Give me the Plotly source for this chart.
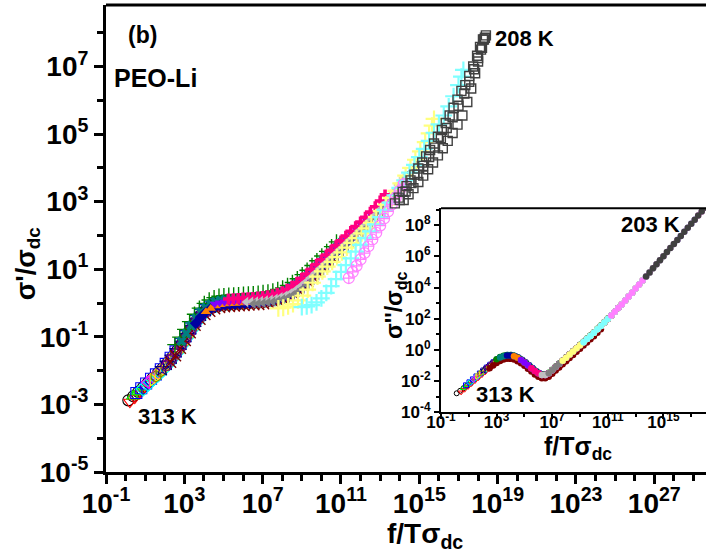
import plotly.graph_objects as go

# ---------------- data (log10 units) ----------------
TEMPS = [313, 308, 303, 298, 293, 288, 283, 278, 273, 268, 263, 258, 253, 248,
         243, 238, 233, 228, 223, 218, 213, 210, 208]
COLORS = ['#000000', '#FF0000', '#00FF00', '#0000FF', '#00FFFF', '#FF00FF', '#FFFF00',
          '#808000', '#000080', '#800080', '#800000', '#008000', '#008080', '#0000A0',
          '#FF8000', '#8000FF', '#FF0080', '#C0C0C0', '#808080', '#FFFF80', '#80FFFF',
          '#FF80FF', '#404040']
SYMBOLS = ['circle-open', 'triangle-down-open', 'triangle-up-open', 'square-open',
           'diamond-open', 'triangle-left-open', 'triangle-right-open', 'hexagon-open',
           'star-open', 'hexagon2-open', 'x-thin-open', 'cross-thin-open', 'x',
           'diamond', 'triangle-up', 'triangle-down', 'cross', 'triangle-left',
           'triangle-left', 'cross-thin-open', 'cross-thin-open', 'circle-cross-open',
           'square-open']

# master curve of sigma'/sigma_dc (main panel), read along the band
MAIN_MASTER_LX = [0.0, 0.25, 0.5, 0.75, 1.0, 1.25, 1.5, 1.75, 2.0, 2.25, 2.5, 2.75,
                  3.0, 3.25, 3.5, 3.75, 4.0, 4.25, 4.5, 4.75, 5.0, 5.25, 5.5, 5.75,
                  6.0, 6.25, 6.5, 6.75, 7.0, 7.25, 7.5, 7.75, 8.0, 8.25, 8.5, 8.75,
                  9.0, 9.25, 9.5, 9.75, 10.0, 10.25, 10.5, 10.75, 11.0, 11.25, 11.5,
                  11.75, 12.0, 12.25, 12.5, 12.75, 13.0, 13.25, 13.5, 13.75, 14.0,
                  14.25, 14.5, 14.75]
MAIN_MASTER_LY = [-2.88, -2.76, -2.63, -2.49, -2.35, -2.21, -2.08, -1.93, -1.77, -1.59,
                  -1.40, -1.18, -0.95, -0.72, -0.50, -0.32, -0.18, -0.08, -0.01, 0.03,
                  0.05, 0.06, 0.07, 0.08, 0.09, 0.10, 0.11, 0.12, 0.14, 0.16, 0.19,
                  0.23, 0.28, 0.35, 0.44, 0.55, 0.67, 0.80, 0.94, 1.08, 1.22, 1.36,
                  1.50, 1.64, 1.78, 1.92, 2.06, 2.20, 2.34, 2.48, 2.63, 2.79, 2.96,
                  3.14, 3.34, 3.55, 3.76, 3.98, 4.20, 4.43]
# per-temperature placement on the master curve (first 19 series)
MAIN_DX = [0.14, 0.22, 0.12, 0.05, 0.15, 0.08, 0.15, 0.05, 0.12, 0.10, 0.05, 0.02,
           0.10, 0.08, 0.10, 0.05, 0.0, 0.15, 0.28]
MAIN_DY = [0.0, -0.05, 0.0, -0.03, -0.05, 0.0, -0.06, -0.09, -0.02, -0.08, -0.16, 0.17,
           0.05, -0.10, -0.08, -0.02, 0.06, -0.06, -0.12]
MAIN_LO = [0.0, 0.0, 0.25, 0.5, 0.75, 1.0, 1.25, 1.5, 1.75, 2.0, 2.25, 2.5, 2.75,
           3.5, 4.0, 4.5, 5.25, 6.0, 6.25]
MAIN_HI = [8.0, 8.25, 8.5, 8.75, 9.0, 9.25, 9.5, 9.75, 10.0, 10.25, 10.5, 10.75, 11.0,
           11.5, 12.0, 12.5, 13.25, 14.0, 14.5]

# the last (low temperature) curves, read directly
LTY_LX = [7.8, 8.05, 8.3, 8.55, 8.8, 9.05, 9.3, 9.55, 9.8, 10.05, 10.3, 10.55, 10.8,
          11.05, 11.3, 11.55, 11.8, 12.05, 12.3, 12.55, 12.8, 13.05, 13.3, 13.55, 13.8,
          14.05, 14.3, 14.55, 14.8, 15.05, 15.3, 15.5, 15.65, 15.75]
LTY_LY = [-0.16, -0.14, -0.10, -0.03, 0.08, 0.22, 0.40, 0.60, 0.78, 0.94, 1.08, 1.22,
          1.36, 1.50, 1.64, 1.78, 1.92, 2.06, 2.21, 2.37, 2.54, 2.72, 2.91, 3.11, 3.32,
          3.54, 3.77, 4.00, 4.24, 4.49, 4.76, 5.02, 5.25, 5.45]
LTC_LX = [9.0, 9.25, 9.5, 9.75, 10.0, 10.25, 10.5, 10.75, 11.0, 11.25, 11.5, 11.75,
          12.0, 12.25, 12.5, 12.75, 13.0, 13.25, 13.5, 13.75, 14.0, 14.25, 14.5, 14.75,
          15.0, 15.25, 15.5, 15.75, 16.0, 16.25, 16.5, 16.75, 17.0, 17.15, 17.25]
LTC_LY = [-0.12, -0.10, -0.06, 0.02, 0.14, 0.30, 0.50, 0.71, 0.92, 1.12, 1.32, 1.52,
          1.72, 1.92, 2.12, 2.33, 2.54, 2.75, 2.97, 3.19, 3.41, 3.63, 3.86, 4.09, 4.32,
          4.56, 4.80, 5.04, 5.29, 5.55, 5.82, 6.12, 6.45, 6.70, 6.90]
LTM_LX = [11.4, 11.6, 11.8, 12.0, 12.2, 12.4, 12.6, 12.8, 13.0, 13.2, 13.4, 13.6, 13.8,
          14.0, 14.2]
LTM_LY = [0.74, 0.92, 1.10, 1.29, 1.48, 1.68, 1.88, 2.08, 2.29, 2.50, 2.71, 2.92, 3.12,
          3.32, 3.52]
DKG_LX = [13.75, 13.95, 14.15, 14.35, 14.55, 14.75, 14.95, 15.15, 15.35, 15.55, 15.75,
          15.95, 16.15, 16.35, 16.55, 16.75, 16.95, 17.15, 17.35, 17.55, 17.75, 17.95,
          18.1, 18.25, 18.4,
          14.0, 14.3, 14.6, 14.9, 15.2, 15.5, 15.8, 16.1, 16.4, 16.7, 17.0, 17.3, 17.55,
          17.8, 18.0, 18.2, 18.35,
          14.2, 14.45, 14.7, 14.95, 15.2, 15.45, 15.7, 15.95, 16.2, 16.45, 16.7, 16.95,
          17.2, 17.45, 17.65, 17.85, 18.0, 18.15, 18.3]
DKG_LY = [2.95, 3.12, 3.29, 3.46, 3.63, 3.80, 3.98, 4.16, 4.34, 4.53, 4.72, 4.92, 5.12,
          5.33, 5.55, 5.78, 6.02, 6.28, 6.45, 6.72, 7.00, 7.32, 7.58, 7.80, 7.92,
          3.05, 3.30, 3.55, 3.80, 4.06, 4.32, 4.60, 4.88, 5.18, 5.50, 5.84, 6.20, 6.55,
          6.92, 7.25, 7.55, 7.85,
          3.05, 3.22, 3.40, 3.58, 3.77, 3.96, 4.16, 4.37, 4.58, 4.80, 5.03, 5.28,
          5.55, 5.95, 6.35, 6.80, 7.15, 7.50, 7.80]
LATE_LX = [LTY_LX, LTC_LX, LTM_LX, DKG_LX]
LATE_LY = [LTY_LY, LTC_LY, LTM_LY, DKG_LY]

# inset: sigma''/sigma_dc master curve
INSET_TEMPS = [313, 308, 303, 298, 293, 288, 283, 278, 273, 268, 263, 258, 253, 248,
               243, 238, 233, 228, 223, 218, 213, 208, 203]
INSET_MASTER_LX = [0.0, 0.25, 0.5, 0.75, 1.0, 1.25, 1.5, 1.75, 2.0, 2.25, 2.5, 2.75,
                   3.0, 3.25, 3.5, 3.75, 4.0, 4.25, 4.5, 4.75, 5.0, 5.25, 5.5, 5.75,
                   6.0, 6.25, 6.5, 6.75, 7.0, 7.25, 7.5, 7.75, 8.0, 8.25, 8.5, 8.75,
                   9.0, 9.25, 9.5, 9.75, 10.0, 10.25, 10.5, 10.75, 11.0, 11.25, 11.5,
                   11.75, 12.0, 12.25, 12.5, 12.75, 13.0, 13.25, 13.5, 13.75, 14.0,
                   14.25, 14.5, 14.75, 15.0, 15.25, 15.5, 15.75, 16.0, 16.25, 16.5,
                   16.75, 17.0, 17.25, 17.5, 17.75, 18.0]
INSET_MASTER_LY = [-2.78, -2.62, -2.45, -2.27, -2.08, -1.89, -1.70, -1.51, -1.32, -1.13,
                   -0.95, -0.78, -0.62, -0.49, -0.40, -0.35, -0.35, -0.40, -0.50, -0.64,
                   -0.80, -0.98, -1.17, -1.35, -1.50, -1.60, -1.60, -1.50, -1.30, -1.10,
                   -0.90, -0.70, -0.50, -0.30, -0.10, 0.10, 0.30, 0.50, 0.70, 0.90, 1.10,
                   1.32, 1.54, 1.76, 1.98, 2.21, 2.44, 2.68, 2.92, 3.17, 3.42, 3.67, 3.93,
                   4.19, 4.45, 4.71, 4.97, 5.23, 5.49, 5.75, 6.01, 6.27, 6.53, 6.79, 7.05,
                   7.31, 7.57, 7.83, 8.09, 8.35, 8.61, 8.87, 9.13]
INSET_DX = [0.13, 0.2, 0.1, 0.05, 0.1, 0.05, 0.1, 0.05, 0.05, 0.05, 0.0, 0.0, 0.0, 0.0,
            0.0, 0.0, 0.0, 0.0, 0.0, 0.0, 0.0, 0.0, 0.0]
INSET_DY = [0.0, -0.1, 0.0, 0.0, 0.0, 0.0, 0.0, 0.0, 0.0, 0.0, -0.22, 0.03, 0.0, 0.0,
            0.0, 0.0, 0.0, 0.0, 0.0, 0.0, 0.0, 0.0, 0.0]
INSET_LO = [0.0, 0.25, 0.5, 0.75, 1.0, 1.25, 1.5, 1.75, 2.0, 2.25, 2.5, 3.0, 3.25, 3.75,
            4.25, 4.75, 5.5, 6.25, 6.75, 7.75, 9.25, 11.25, 13.75]
INSET_HI = [8.0, 8.0, 8.5, 8.75, 9.0, 9.25, 9.5, 9.75, 10.0, 10.25, 10.5, 11.0, 11.25,
            11.75, 12.25, 12.75, 13.5, 14.25, 14.75, 15.75, 17.25, 18.0, 18.0]

MAIN_X_LABELS = [-1, 3, 7, 11, 15, 19, 23, 27]
MAIN_Y_LABELS = [-5, -3, -1, 1, 3, 5, 7]
INSET_X_LABELS = [-1, 3, 7, 11, 15]
INSET_Y_LABELS = [-4, -2, 0, 2, 4, 6, 8]

FONT = 'Liberation Sans, Arial, sans-serif'

# ---------------- figure ----------------
fig = go.Figure()


def add_series(name, lx, ly, color, symbol, size, xa='x', ya='y', lw=1.0):
    fig.add_trace(go.Scatter(
        x=[10 ** v for v in lx], y=[10 ** v for v in ly], mode='markers', name=name,
        xaxis=xa, yaxis=ya, showlegend=False,
        marker=dict(symbol=symbol, size=size, color=color,
                    line=dict(color=color, width=lw))))


for i in range(len(MAIN_DX)):
    sel = [k for k, m in enumerate(MAIN_MASTER_LX) if MAIN_LO[i] <= m <= MAIN_HI[i]]
    lx = [MAIN_MASTER_LX[k] + MAIN_DX[i] for k in sel]
    ly = [MAIN_MASTER_LY[k] + MAIN_DY[i] for k in sel]
    filled = not SYMBOLS[i].endswith('open')
    thin = 'thin' in SYMBOLS[i]
    add_series(f'{TEMPS[i]} K', lx, ly, COLORS[i], SYMBOLS[i], 9 if filled else 11,
               lw=1.4 if thin else (0 if filled else 1.1))

LATE_SIZE = [12, 12, 11, 9]
LATE_LW = [2.2, 2.2, 1.2, 1.4]
for j in range(4):
    i = len(MAIN_DX) + j
    add_series(f'{TEMPS[i]} K', LATE_LX[j], LATE_LY[j], COLORS[i], SYMBOLS[i],
               LATE_SIZE[j], lw=LATE_LW[j])

for i in range(len(INSET_DX)):
    sel = [k for k, m in enumerate(INSET_MASTER_LX) if INSET_LO[i] <= m <= INSET_HI[i]]
    lx = [INSET_MASTER_LX[k] + INSET_DX[i] for k in sel]
    ly = [INSET_MASTER_LY[k] + INSET_DY[i] for k in sel]
    if i < 10:
        add_series(f'{INSET_TEMPS[i]} K', lx, ly, COLORS[i], SYMBOLS[i], 5, 'x2', 'y2', 1)
    else:
        add_series(f'{INSET_TEMPS[i]} K', lx, ly, COLORS[i], 'circle', 6.5, 'x2', 'y2', 0)

# empty traces that create the label-only axes' subplots
fig.add_trace(go.Scatter(x=[], y=[], xaxis='x3', yaxis='y', showlegend=False,
                         hoverinfo='skip'))
fig.add_trace(go.Scatter(x=[], y=[], xaxis='x4', yaxis='y2', showlegend=False,
                         hoverinfo='skip'))


def labels(exps):
    return [10.0 ** e for e in exps], [f'10<sup>{e}</sup>' for e in exps]


mxv, mxt = labels(MAIN_X_LABELS)
myv, myt = labels(MAIN_Y_LABELS)
ixv, ixt = labels(INSET_X_LABELS)
iyv, iyt = labels(INSET_Y_LABELS)

main_tick = dict(family=FONT, size=28, color='black', weight='bold')
inset_tick = dict(family=FONT, size=17, color='black', weight='bold')

MAIN_XR = [-1, 29.64]
INSET_XR = [-1, 18.06]
INSET_DOM_X = [0.5583, 1]
INSET_DOM_Y = [0.1278, 0.5647]

fig.update_layout(
    width=706, height=556, margin=dict(l=106, r=0, t=5, b=84),
    paper_bgcolor='white', plot_bgcolor='white', showlegend=False,
    xaxis=dict(type='log', range=MAIN_XR, domain=[0, 1], anchor='y',
               showline=True, linecolor='black', linewidth=3, showgrid=False,
               zeroline=False, ticks='outside', ticklen=9, tickwidth=2.5,
               tickcolor='black', tickmode='array', tickvals=mxv, ticktext=mxt,
               showticklabels=False,
               minor=dict(tickmode='array',
                          tickvals=[10.0 ** e for e in range(-1, 30) if e not in MAIN_X_LABELS],
                          ticks='outside', ticklen=6, tickwidth=2.5, tickcolor='black',
                          showgrid=False)),
    # label-only axis (invisible short ticks act as the label gap)
    xaxis3=dict(type='log', range=MAIN_XR, domain=[0, 1], overlaying='x', anchor='free',
                position=0, side='bottom', showline=False, showgrid=False,
                zeroline=False, ticks='outside', ticklen=6, tickcolor='rgba(0,0,0,0)',
                tickmode='array', tickvals=mxv, ticktext=mxt, tickfont=main_tick),
    yaxis=dict(type='log', range=[-5, 8.82], domain=[0, 1], anchor='x',
               showline=True, linecolor='black', linewidth=3, showgrid=False,
               zeroline=False, ticks='outside', ticklen=9, tickwidth=2.5,
               tickcolor='black', tickmode='array', tickvals=myv, ticktext=myt,
               tickfont=main_tick,
               minor=dict(tickmode='array',
                          tickvals=[10.0 ** e for e in range(-5, 9) if e not in MAIN_Y_LABELS],
                          ticks='outside', ticklen=6, tickwidth=2.5, tickcolor='black',
                          showgrid=False)),
    xaxis2=dict(type='log', range=INSET_XR, domain=INSET_DOM_X, anchor='y2',
                showline=True, linecolor='black', linewidth=2, showgrid=False,
                zeroline=False, ticks='outside', ticklen=5, tickwidth=1.5,
                tickcolor='black', tickmode='array', tickvals=ixv, ticktext=ixt,
                showticklabels=False,
                minor=dict(tickmode='array', tickvals=[10.0 ** e for e in [1, 5, 9, 13, 17]],
                           ticks='outside', ticklen=3, tickwidth=1.5, tickcolor='black',
                           showgrid=False)),
    xaxis4=dict(type='log', range=INSET_XR, domain=INSET_DOM_X, overlaying='x2',
                anchor='free', position=INSET_DOM_Y[0] + 0.004, side='bottom',
                showline=False, showgrid=False, zeroline=False, ticks='',
                tickmode='array', tickvals=ixv, ticktext=ixt, tickfont=inset_tick),
    yaxis2=dict(type='log', range=[-4, 9.08], domain=INSET_DOM_Y, anchor='x2',
                showline=True, linecolor='black', linewidth=2, showgrid=False,
                zeroline=False, ticks='outside', ticklen=5, tickwidth=1.5,
                tickcolor='black', tickmode='array', tickvals=iyv, ticktext=iyt,
                tickfont=inset_tick,
                minor=dict(tickmode='array', tickvals=[10.0 ** e for e in [-3, -1, 1, 3, 5, 7, 9]],
                           ticks='outside', ticklen=3, tickwidth=1.5, tickcolor='black',
                           showgrid=False)),
)

# top frame lines (right side lies outside the picture)
fig.add_shape(type='line', xref='paper', yref='paper', x0=0, x1=1, y0=1, y1=1,
              line=dict(color='black', width=3))
fig.add_shape(type='line', xref='paper', yref='paper', x0=INSET_DOM_X[0], x1=1,
              y0=INSET_DOM_Y[1], y1=INSET_DOM_Y[1], line=dict(color='black', width=2))


def note(text, x, y, size, angle=0):
    fig.add_annotation(text=text, xref='paper', yref='paper', x=x, y=y, showarrow=False,
                       xanchor='center', yanchor='middle', textangle=angle,
                       font=dict(family=FONT, size=size, color='black', weight='bold'))


note('f/Tσ<sub>dc</sub>', 0.5317, -0.1355, 28)
note("σ'/σ<sub>dc</sub>", -0.13, 0.445, 27, -90)
note('(b)', 0.06, 0.9358, 23)
note('PEO-Li', 0.0833, 0.8437, 25)
note('208 K', 0.6967, 0.9272, 22)
note('313 K', 0.1017, 0.1199, 22)
note('203 K', 0.9067, 0.531, 22)
note('313 K', 0.665, 0.1649, 22)
note("σ''/σ<sub>dc</sub>", 0.4817, 0.3576, 23, -90)
note('f/Tσ<sub>dc</sub>', 0.7867, 0.0514, 25)

fig.write_html('out.html')
